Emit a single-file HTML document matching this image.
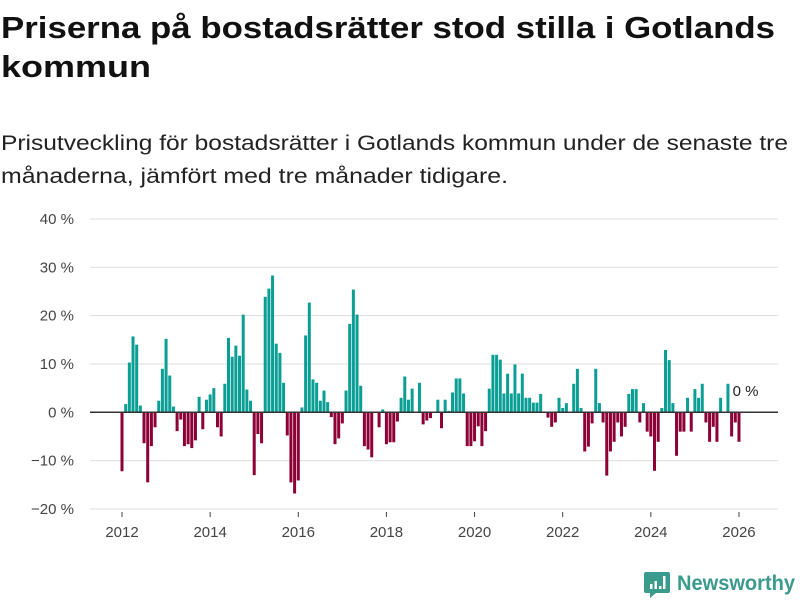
<!DOCTYPE html>
<html><head><meta charset="utf-8"><style>
body{margin:0;background:#fff;}
svg{display:block;font-family:"Liberation Sans",sans-serif;}
</style></head><body>
<svg id="chart" width="800" height="600" viewBox="0 0 800 600" xmlns="http://www.w3.org/2000/svg">
<text x="1" y="38" font-size="31" font-weight="bold" fill="#111" textLength="774" lengthAdjust="spacingAndGlyphs">Priserna på bostadsrätter stod stilla i Gotlands</text>
<text x="1" y="77" font-size="31" font-weight="bold" fill="#111" textLength="150" lengthAdjust="spacingAndGlyphs">kommun</text>
<text x="1" y="150" font-size="21" fill="#222" textLength="787" lengthAdjust="spacingAndGlyphs">Prisutveckling för bostadsrätter i Gotlands kommun under de senaste tre</text>
<text x="1" y="183" font-size="21" fill="#222" textLength="507" lengthAdjust="spacingAndGlyphs">månaderna, jämfört med tre månader tidigare.</text>
<g id="grid"></g><g id="bars"></g><g id="axes"></g>
<g>
<path d="M646 572 h22 a2 2 0 0 1 2 2 v17 a2 2 0 0 1 -2 2 h-12 l-6 5 v-5 h-4 a2 2 0 0 1 -2 -2 v-17 a2 2 0 0 1 2 -2z" fill="#3a9a8c"/>
<rect x="650" y="584" width="2.5" height="5" fill="#fff"/><rect x="654.5" y="581" width="2.5" height="8" fill="#fff"/><rect x="659" y="586" width="2.5" height="3" fill="#fff"/><rect x="663" y="576" width="2.5" height="13" fill="#fff"/>
<text x="677" y="590" font-size="21" font-weight="bold" fill="#3a9a8c" textLength="118" lengthAdjust="spacingAndGlyphs">Newsworthy</text>
</g>
</svg>
<script>
const startYear = 2012;
const values = [-12.2,1.7,10.3,15.7,14,1.4,-6.4,-14.5,-7,-3.1,2.4,9,
15.2,7.6,1.2,-3.9,-1.5,-7,-6.6,-7.4,-5.8,3.2,-3.5,2.6,
3.7,5,-3.1,-5,5.9,15.4,11.5,13.8,11.7,20.2,4.7,2.4,
-13,-4.5,-6.4,23.9,25.6,28.3,14.2,12.3,6.1,-4.8,-14.5,-16.8,
-14.1,1,15.9,22.7,6.8,6.1,2.4,4.5,2.1,-1,-6.6,-5.4,
-2.3,4.5,18.3,25.4,20.2,5.5,-7,-7.7,-9.3,0,-3.1,0.6,
-6.6,-6.2,-6.2,-1.9,3,7.4,2.6,4.9,0,6.1,-2.5,-1.7,
-1.2,0,2.6,-3.3,2.6,0.3,4.1,7,7,3.9,-7,-7,
-6,-2.9,-7,-3.9,4.9,11.9,11.9,10.9,3.9,8,3.9,9.9,
3.9,8,3,3,2,2,3.8,0,-1.1,-3,-2.1,3,
0.9,1.9,0,5.9,9,0.9,-8.1,-7.1,-2.3,9,1.9,-2.1,
-13.1,-8.1,-6.1,-2.1,-5,-3,3.8,4.8,4.8,-2.1,1.9,-4,
-5,-12.1,-6.1,0.9,12.9,10.8,1.9,-9,-4,-4,3,-4,
4.8,3,5.9,-2.1,-6.1,-3,-6.1,3,0,5.9,-5,-2.1,
-6.1,0];
const yTicks = [-20,-10,0,10,20,30,40];
const xTicks = [2012,2014,2016,2018,2020,2022,2024,2026];
const lastLabel = "0 %";

const NS = "http://www.w3.org/2000/svg";
const x = t => 122 + (t - 2012) * 44.07;
const y = v => 412.3 - v * 4.833;
function mk(tag, attrs, parent){const e=document.createElementNS(NS,tag);for(const k in attrs)e.setAttribute(k,attrs[k]);parent.appendChild(e);return e;}
const grid=document.getElementById('grid'), bars=document.getElementById('bars'), axes=document.getElementById('axes');
yTicks.forEach(v=>{
  if(v!==0){const l=mk('line',{x1:90,x2:778,y1:y(v),y2:y(v),stroke:'#ddd','stroke-width':1},grid);
  
  }
  const t=mk('text',{x:74,y:y(v)+5,'font-size':15,fill:'#444','text-anchor':'end'},axes);
  t.textContent=(v<0?'\u2212'+(-v):v)+' %';
  
  
});
values.forEach((v,i)=>{
  const xc=x(startYear+i/12);
  const r=mk('rect',{x:xc-1.5,y:Math.min(y(v),y(0)),width:3,height:Math.abs(y(v)-y(0)),fill:v>=0?'#0a9e94':'#8c0036'},bars);
  
  
});
const z=mk('line',{x1:90,x2:778,y1:y(0),y2:y(0),stroke:'#333','stroke-width':1.5},axes);


xTicks.forEach(t=>{
  const l=mk('line',{x1:x(t),x2:x(t),y1:512,y2:517,stroke:'#444'},axes);
  
  
  const tx=mk('text',{x:x(t),y:537,'font-size':15,fill:'#444','text-anchor':'middle'},axes);
  tx.textContent=t;
  
  
});
const lastX=x(startYear+(values.length-1)/12);
const lab=mk('text',{x:lastX-10,y:396,'font-size':15,fill:'#222'},axes);
lab.textContent=lastLabel;


</script>
</body></html>
